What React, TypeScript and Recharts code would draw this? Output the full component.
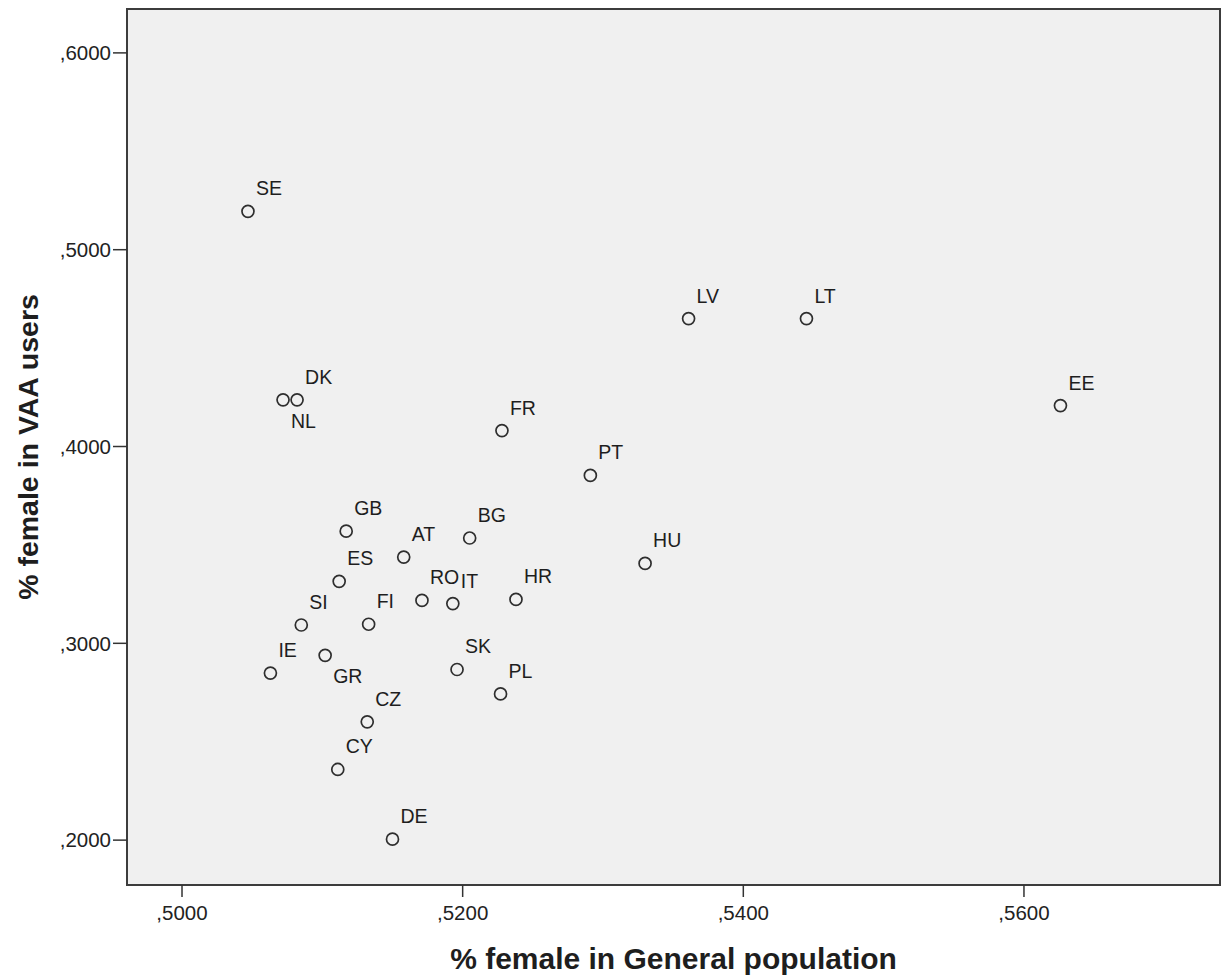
import React from 'react';
import { ScatterChart, Scatter, XAxis, YAxis, CartesianGrid, ReferenceArea } from 'recharts';

const countries = ['SE','DK','NL','LV','LT','EE','FR','PT','HU','GB','AT','BG','ES','RO','IT','HR','SI','FI','IE','GR','SK','PL','CZ','CY','DE'];
const femaleGeneral = [0.5047,0.5082,0.5072,0.5361,0.5445,0.5626,0.5228,0.5291,0.5330,0.5117,0.5158,0.5205,0.5112,0.5171,0.5193,0.5238,0.5085,0.5133,0.5063,0.5102,0.5196,0.5227,0.5132,0.5111,0.5150];
const femaleVAA = [0.5195,0.4237,0.4237,0.4650,0.4650,0.4208,0.4081,0.3853,0.3406,0.3570,0.3438,0.3535,0.3315,0.3218,0.3202,0.3223,0.3093,0.3097,0.2849,0.2939,0.2867,0.2743,0.2601,0.2359,0.2005];
const labelsBelow = ['NL', 'GR'];

const xTicks = [0.50, 0.52, 0.54, 0.56];
const yTicks = [0.2, 0.3, 0.4, 0.5, 0.6];
const xDomain = [0.49608, 0.57397];
const yDomain = [0.1772, 0.6223];

const xTitle = '% female in General population';
const yTitle = '% female in VAA users';

const data = countries.map((c, i) => ({ name: c, x: femaleGeneral[i], y: femaleVAA[i] }));

const fmt = (v: number) => ',' + v.toFixed(4).split('.')[1];
const FONT = '"Liberation Sans", Arial, sans-serif';

const PointShape = (props: any) => {
  const { cx, cy, payload } = props;
  const below = labelsBelow.includes(payload.name);
  return (
    <g>
      <circle cx={cx} cy={cy} r={6} fill="none" stroke="#2e2e2e" strokeWidth={1.7} />
      <text
        x={cx + 8}
        y={below ? cy + 21 : cy - 23}
        dominantBaseline="central"
        textAnchor="start"
        fontFamily={FONT}
        fontSize={19.5}
        fill="#1e1e1e"
      >
        {payload.name}
      </text>
    </g>
  );
};

export default function App() {
  return (
    <div style={{ width: 1221, height: 968 }}>
      <ScatterChart width={1221} height={968} margin={{ top: 1, right: 9, bottom: 0, left: 0 }}>
        <CartesianGrid horizontal={false} vertical={false} fill="#F0F0F0" />
        <XAxis
          type="number"
          dataKey="x"
          domain={xDomain}
          ticks={xTicks}
          tickFormatter={fmt}
          allowDataOverflow
          height={91}
          tickSize={12}
          tickMargin={8}
          axisLine={false}
          tickLine={{ stroke: '#333', strokeWidth: 1.5 }}
          tick={{ fontFamily: FONT, fontSize: 20.5, fill: '#222' }}
          label={{
            content: (p: any) => {
              const vb = p.viewBox;
              return (
                <text x={vb.x + vb.width / 2} y={vb.y + 84} textAnchor="middle" fontFamily={FONT} fontWeight="bold" fontSize={30} fill="#1e1e1e">
                  {xTitle}
                </text>
              );
            },
          }}
        />
        <YAxis
          type="number"
          dataKey="y"
          domain={yDomain}
          ticks={yTicks}
          tickFormatter={fmt}
          allowDataOverflow
          width={119}
          tickSize={14}
          tickMargin={2}
          axisLine={false}
          tickLine={{ stroke: '#333', strokeWidth: 1.5 }}
          tick={{ fontFamily: FONT, fontSize: 20.5, fill: '#222' }}
          label={{
            content: (p: any) => {
              const vb = p.viewBox;
              const cx = 20;
              const cy = vb.y + vb.height / 2;
              return (
                <text x={cx} y={cy} transform={`rotate(-90, ${cx}, ${cy})`} textAnchor="middle" dominantBaseline="central" fontFamily={FONT} fontWeight="bold" fontSize={28.5} fill="#1e1e1e">
                  {yTitle}
                </text>
              );
            },
          }}
        />
        <ReferenceArea
          x1={xDomain[0]}
          x2={xDomain[1]}
          y1={yDomain[0]}
          y2={yDomain[1]}
          fill="none"
          stroke="#3c3c3c"
          strokeWidth={2}
          ifOverflow="visible"
        />
        <Scatter data={data} shape={PointShape} isAnimationActive={false} />
      </ScatterChart>
    </div>
  );
}
